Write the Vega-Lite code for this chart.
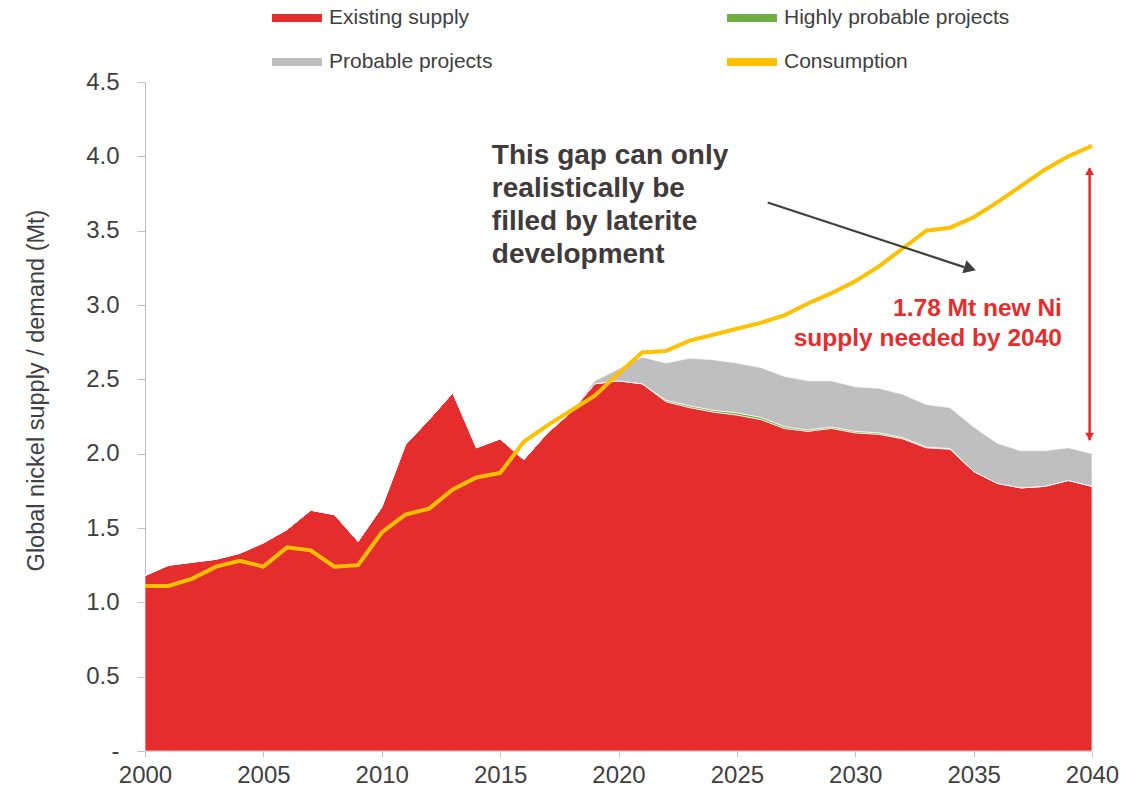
{
  "$schema": "https://vega.github.io/schema/vega-lite/v6.json",
  "width": 947,
  "height": 669,
  "autosize": {"type": "none"},
  "padding": {"left": 145, "top": 82, "right": 48, "bottom": 44},
  "background": "white",
  "config": {
    "view": {"stroke": null},
    "font": "Liberation Sans",
    "axis": {"grid": false, "domainColor": "#BFBFBF", "tickColor": "#BFBFBF", "labelColor": "#404040", "labelFont": "Liberation Sans", "titleFont": "Liberation Sans", "titleColor": "#404040", "titleFontWeight": "normal", "zindex": 1}
  },
  "datasets": {
    "main": [
      {"year": 2000, "existing": 1.18, "highly": 0, "probable": 0, "consumption": 1.11},
      {"year": 2001, "existing": 1.25, "highly": 0, "probable": 0, "consumption": 1.11},
      {"year": 2002, "existing": 1.27, "highly": 0, "probable": 0, "consumption": 1.16},
      {"year": 2003, "existing": 1.29, "highly": 0, "probable": 0, "consumption": 1.24},
      {"year": 2004, "existing": 1.33, "highly": 0, "probable": 0, "consumption": 1.28},
      {"year": 2005, "existing": 1.40, "highly": 0, "probable": 0, "consumption": 1.24},
      {"year": 2006, "existing": 1.49, "highly": 0, "probable": 0, "consumption": 1.37},
      {"year": 2007, "existing": 1.62, "highly": 0, "probable": 0, "consumption": 1.35},
      {"year": 2008, "existing": 1.59, "highly": 0, "probable": 0, "consumption": 1.24},
      {"year": 2009, "existing": 1.41, "highly": 0, "probable": 0, "consumption": 1.25},
      {"year": 2010, "existing": 1.64, "highly": 0, "probable": 0, "consumption": 1.47},
      {"year": 2011, "existing": 2.06, "highly": 0, "probable": 0, "consumption": 1.59},
      {"year": 2012, "existing": 2.23, "highly": 0, "probable": 0, "consumption": 1.63},
      {"year": 2013, "existing": 2.41, "highly": 0, "probable": 0, "consumption": 1.76},
      {"year": 2014, "existing": 2.04, "highly": 0, "probable": 0, "consumption": 1.84},
      {"year": 2015, "existing": 2.10, "highly": 0, "probable": 0, "consumption": 1.87},
      {"year": 2016, "existing": 1.96, "highly": 0, "probable": 0, "consumption": 2.08},
      {"year": 2017, "existing": 2.14, "highly": 0, "probable": 0, "consumption": 2.19},
      {"year": 2018, "existing": 2.28, "highly": 0, "probable": 0, "consumption": 2.29},
      {"year": 2019, "existing": 2.47, "highly": 0, "probable": 0.02, "consumption": 2.39},
      {"year": 2020, "existing": 2.49, "highly": 0, "probable": 0.08, "consumption": 2.54},
      {"year": 2021, "existing": 2.47, "highly": 0, "probable": 0.18, "consumption": 2.68},
      {"year": 2022, "existing": 2.35, "highly": 0.01, "probable": 0.25, "consumption": 2.69},
      {"year": 2023, "existing": 2.31, "highly": 0.012, "probable": 0.32, "consumption": 2.76},
      {"year": 2024, "existing": 2.28, "highly": 0.012, "probable": 0.34, "consumption": 2.80},
      {"year": 2025, "existing": 2.26, "highly": 0.015, "probable": 0.335, "consumption": 2.84},
      {"year": 2026, "existing": 2.23, "highly": 0.015, "probable": 0.335, "consumption": 2.88},
      {"year": 2027, "existing": 2.17, "highly": 0.012, "probable": 0.338, "consumption": 2.93},
      {"year": 2028, "existing": 2.15, "highly": 0.01, "probable": 0.33, "consumption": 3.01},
      {"year": 2029, "existing": 2.17, "highly": 0.01, "probable": 0.31, "consumption": 3.08},
      {"year": 2030, "existing": 2.14, "highly": 0.01, "probable": 0.30, "consumption": 3.16},
      {"year": 2031, "existing": 2.13, "highly": 0.01, "probable": 0.30, "consumption": 3.26},
      {"year": 2032, "existing": 2.10, "highly": 0.008, "probable": 0.292, "consumption": 3.38},
      {"year": 2033, "existing": 2.04, "highly": 0.005, "probable": 0.285, "consumption": 3.50},
      {"year": 2034, "existing": 2.03, "highly": 0.005, "probable": 0.275, "consumption": 3.52},
      {"year": 2035, "existing": 1.88, "highly": 0, "probable": 0.30, "consumption": 3.59},
      {"year": 2036, "existing": 1.80, "highly": 0, "probable": 0.27, "consumption": 3.69},
      {"year": 2037, "existing": 1.77, "highly": 0, "probable": 0.25, "consumption": 3.80},
      {"year": 2038, "existing": 1.78, "highly": 0, "probable": 0.24, "consumption": 3.91},
      {"year": 2039, "existing": 1.82, "highly": 0, "probable": 0.22, "consumption": 4.00},
      {"year": 2040, "existing": 1.78, "highly": 0, "probable": 0.22, "consumption": 4.07}
    ],
    "arrows": [
      {"kind": "gap", "x1": 2026.3, "y1": 3.69, "x2": 2034.6, "y2": 3.255},
      {"kind": "need", "x1": 2039.9, "y1": 3.92, "x2": 2039.9, "y2": 2.09}
    ],
    "heads": [
      {"kind": "gap", "x": 2034.85, "y": 3.245},
      {"kind": "needTop", "x": 2039.9, "y": 3.9},
      {"kind": "needBottom", "x": 2039.9, "y": 2.115}
    ],
    "notes": [
      {"kind": "gap", "x": 2014.65, "y": 3.948, "text": "This gap can only|realistically be|filled by laterite|development"},
      {"kind": "need", "x": 2038.73, "y": 2.926, "text": "1.78 Mt new Ni|supply needed by 2040"}
    ]
  },
  "layer": [
    {
      "data": {"name": "main"},
      "transform": [
        {"fold": ["existing", "highly", "probable"], "as": ["key", "value"]},
        {"calculate": "datum.key === 'existing' ? 'Existing supply' : datum.key === 'highly' ? 'Highly probable projects' : 'Probable projects'", "as": "series"},
        {"calculate": "indexof(['existing','highly','probable'], datum.key)", "as": "ord"}
      ],
      "mark": {"type": "area", "interpolate": "linear", "stroke": "white", "strokeWidth": 0.7, "opacity": 1},
      "encoding": {
        "x": {"field": "year", "type": "quantitative", "scale": {"domain": [2000, 2040], "nice": false, "zero": false},
          "axis": {"values": [2000, 2005, 2010, 2015, 2020, 2025, 2030, 2035, 2040], "format": "d", "title": null, "labelFontSize": 24, "tickSize": 6, "labelPadding": 6, "labelFlush": false}},
        "y": {"field": "value", "type": "quantitative", "stack": "zero", "scale": {"domain": [0, 4.5], "nice": false},
          "axis": {"values": [0, 0.5, 1, 1.5, 2, 2.5, 3, 3.5, 4, 4.5], "labelExpr": "datum.value === 0 ? '-' : format(datum.value, '.1f')", "labelFontSize": 24, "tickSize": 8, "labelPadding": 18,
            "title": "Global nickel supply / demand (Mt)", "titleFontSize": 23.5, "titleX": -102, "titleY": 308, "titleBaseline": "alphabetic", "titleAngle": -90, "titleAlign": "center"}},
        "color": {"field": "series", "type": "nominal",
          "scale": {"domain": ["Existing supply", "Highly probable projects", "Probable projects", "Consumption"], "range": ["#E52D2D", "#70AD47", "#BFBFBF", "#FFC000"]},
          "legend": {"title": null, "orient": "none", "legendX": 127, "legendY": -89, "columns": 2, "direction": "horizontal",
            "symbolSize": 2500, "symbolType": "M-1,-0.16L1,-0.16L1,0.16L-1,0.16Z", "labelFontSize": 21, "labelFont": "Liberation Sans", "labelColor": "#404040", "labelOffset": 7, "columnPadding": 234, "rowPadding": 9, "labelLimit": 400, "symbolStrokeWidth": 0,
            "encode": {"symbols": {"update": {"fill": {"scale": "color", "field": "value"}, "stroke": {"value": "transparent"}, "opacity": {"value": 1},
              "shape": [{"test": "datum.value === 'Consumption'", "value": "M-1,-0.07L1,-0.07L1,0.07L-1,0.07Z"}, {"value": "M-1,-0.16L1,-0.16L1,0.16L-1,0.16Z"}]}}}}},
        "order": {"field": "ord", "type": "quantitative"}
      }
    },
    {
      "data": {"name": "main"},
      "mark": {"type": "line", "strokeWidth": 4, "interpolate": "linear"},
      "encoding": {
        "x": {"field": "year", "type": "quantitative"},
        "y": {"field": "consumption", "type": "quantitative"},
        "color": {"datum": "Consumption", "type": "nominal"}
      }
    },
    {
      "data": {"name": "arrows"},
      "transform": [{"filter": "datum.kind === 'gap'"}],
      "mark": {"type": "rule", "color": "#404040", "strokeWidth": 2.2},
      "encoding": {
        "x": {"field": "x1", "type": "quantitative"}, "y": {"field": "y1", "type": "quantitative"},
        "x2": {"field": "x2"}, "y2": {"field": "y2"}
      }
    },
    {
      "data": {"name": "arrows"},
      "transform": [{"filter": "datum.kind === 'need'"}],
      "mark": {"type": "rule", "color": "#E52D2D", "strokeWidth": 2.5},
      "encoding": {
        "x": {"field": "x1", "type": "quantitative"}, "y": {"field": "y1", "type": "quantitative"},
        "y2": {"field": "y2"}
      }
    },
    {
      "data": {"name": "heads"},
      "transform": [{"filter": "datum.kind === 'gap'"}],
      "mark": {"type": "point", "filled": true, "color": "#404040", "opacity": 1, "size": 190, "shape": "triangle-right", "angle": 17.5},
      "encoding": {
        "x": {"field": "x", "type": "quantitative"}, "y": {"field": "y", "type": "quantitative"}
      }
    },
    {
      "data": {"name": "heads"},
      "transform": [{"filter": "datum.kind === 'needTop'"}],
      "mark": {"type": "point", "filled": true, "color": "#E52D2D", "opacity": 1, "size": 80, "shape": "triangle-up"},
      "encoding": {
        "x": {"field": "x", "type": "quantitative"}, "y": {"field": "y", "type": "quantitative"}
      }
    },
    {
      "data": {"name": "heads"},
      "transform": [{"filter": "datum.kind === 'needBottom'"}],
      "mark": {"type": "point", "filled": true, "color": "#E52D2D", "opacity": 1, "size": 80, "shape": "triangle-down"},
      "encoding": {
        "x": {"field": "x", "type": "quantitative"}, "y": {"field": "y", "type": "quantitative"}
      }
    },
    {
      "data": {"name": "notes"},
      "transform": [{"filter": "datum.kind === 'gap'"}],
      "mark": {"type": "text", "align": "left", "baseline": "alphabetic", "fontSize": 28, "fontWeight": "bold", "color": "#403A3A", "lineBreak": "|", "lineHeight": 33, "font": "Liberation Sans"},
      "encoding": {
        "x": {"field": "x", "type": "quantitative"}, "y": {"field": "y", "type": "quantitative"},
        "text": {"field": "text"}
      }
    },
    {
      "data": {"name": "notes"},
      "transform": [{"filter": "datum.kind === 'need'"}],
      "mark": {"type": "text", "align": "right", "baseline": "alphabetic", "fontSize": 24.5, "fontWeight": "bold", "color": "#E52D2D", "lineBreak": "|", "lineHeight": 30, "font": "Liberation Sans"},
      "encoding": {
        "x": {"field": "x", "type": "quantitative"}, "y": {"field": "y", "type": "quantitative"},
        "text": {"field": "text"}
      }
    }
  ]
}
